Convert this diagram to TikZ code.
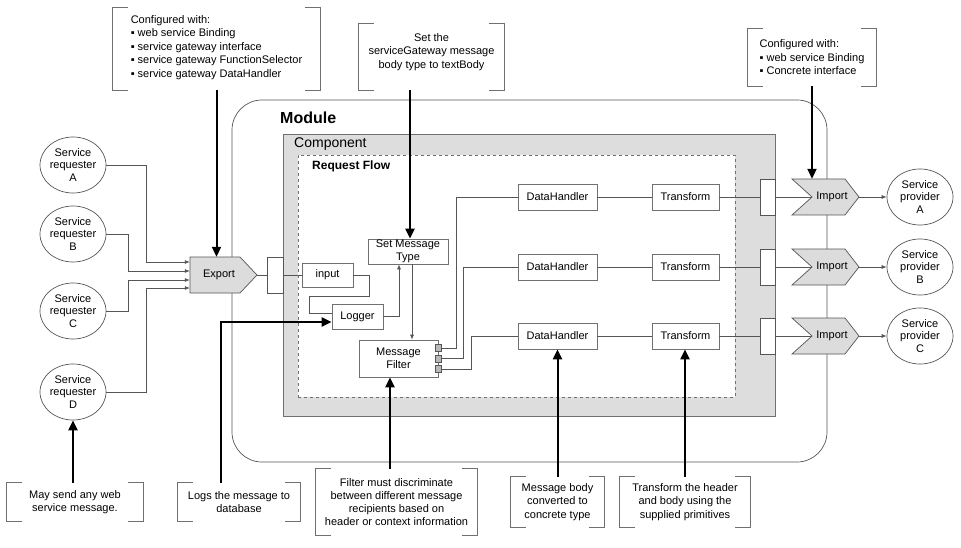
\documentclass[tikz,border=0pt]{standalone}
\usepackage{fontspec}
\setmainfont{Liberation Sans}
\usetikzlibrary{arrows.meta,shapes.geometric}
\definecolor{linegray}{HTML}{555555}
\definecolor{boxgray}{HTML}{707070}
\definecolor{compfill}{HTML}{DDDDDD}
\definecolor{shapefill}{HTML}{DCDCDC}
\newcommand\bracketsof[1]{%
  \draw[bracketline] ([xshift=15pt]#1.north west) -- (#1.north west) -- (#1.south west) -- ([xshift=15pt]#1.south west);
  \draw[bracketline] ([xshift=-15pt]#1.north east) -- (#1.north east) -- (#1.south east) -- ([xshift=-15pt]#1.south east);}
\begin{document}
\begin{tikzpicture}[x=1pt,y=-1pt,
  every node/.style={font=\fontsize{11}{12.5}\selectfont, inner sep=0pt},
  compbox/.style={draw=boxgray, fill=white, line width=0.7pt, align=center, minimum height=26pt},
  reqell/.style={ellipse, draw=linegray, fill=white, line width=0.7pt, minimum width=66pt, minimum height=56pt, align=center},
  wire/.style={draw=linegray, line width=0.7pt},
  tinyarrow/.style={-{Latex[length=5pt,width=4pt]}},
  notearrow/.style={draw=black, line width=2pt, -{Triangle[length=10pt,width=9pt]}},
  notebox/.style={align=center, font=\fontsize{11}{13.5}\selectfont},
  bracketline/.style={draw=boxgray, line width=0.7pt},
  portbox/.style={draw=linegray, fill=white, line width=0.7pt, minimum width=16pt, minimum height=36pt},
  fport/.style={draw=linegray, fill=gray!55, line width=0.5pt, minimum width=6pt, minimum height=7pt},
  shapeline/.style={draw=linegray, fill=shapefill, line width=0.7pt}
]
\useasboundingbox (0,0) rectangle (961,548);

% containers
\node[draw=linegray, line width=0.7pt, rounded corners=30pt, minimum width=595pt, minimum height=362pt] (module) at (529.5,281) {};
\node[draw=boxgray, fill=compfill, line width=0.7pt, minimum width=492pt, minimum height=282pt] (component) at (529,275) {};
\node[draw=boxgray, fill=white, dashed, line width=0.7pt, minimum width=437pt, minimum height=242pt] (flow) at (516.5,276) {};
\node[font=\bfseries\fontsize{16}{18}\selectfont, anchor=west] (modtitle) at (280,118) {Module};
\node[font=\fontsize{14}{16}\selectfont, anchor=west] (comptitle) at (294,144) {Component};
\node[font=\bfseries\fontsize{12}{14}\selectfont, anchor=west] (flowtitle) at (312,166) {Request Flow};

% export shape
\draw[shapeline] (190,257) -- (240,257) -- (257,275) -- (240,293) -- (190,293) -- cycle;
\node[minimum width=58pt, minimum height=36pt] (exp) at (219,275) {Export};
\coordinate (exptip) at (257,275);

% requesters
\node[reqell] (reqA) at (73,165) {Service\\requester\\A};
\node[reqell] (reqB) at (73,234) {Service\\requester\\B};
\node[reqell] (reqC) at (73,311) {Service\\requester\\C};
\node[reqell] (reqD) at (73,392) {Service\\requester\\D};

% inner components
\node[compbox, minimum width=51pt, minimum height=24pt] (input) at (327.5,275) {input};
\node[compbox, minimum width=51pt, minimum height=25pt] (logger) at (357.5,316.5) {Logger};
\node[compbox, minimum width=80pt, minimum height=25pt] (setmsg) at (408,251.5) {Set Message\\Type};
\node[compbox, minimum width=79pt, minimum height=37pt] (filter) at (398.5,358.5) {Message\\Filter};
\node[fport] (fp1) at (438,348) {};
\node[fport] (fp2) at (438,358.5) {};
\node[fport] (fp3) at (438,369) {};

\foreach \r/\y in {A/197,B/267,C/336}{
  \node[compbox, minimum width=79pt] (dh\r) at (557.5,\y) {DataHandler};
  \node[compbox, minimum width=67pt] (tr\r) at (685.5,\y) {Transform};
  \draw[shapeline] (792,\y-18) -- (845,\y-18) -- (859,\y) -- (845,\y+18) -- (792,\y+18) -- (812,\y) -- cycle;
  \node[minimum width=40pt, minimum height=36pt] (imp\r) at (832,\y) {Import};
  \coordinate (impin\r) at (812,\y);
  \coordinate (imptip\r) at (859,\y);
  \node[reqell] (prov\r) at (920,\y) {Service\\provider\\\r};
}

% wires: requesters to export
\draw[wire, tinyarrow] (reqA.east) -- ++(40,0) |- ([yshift=13pt]exp.west);
\draw[wire, tinyarrow] (reqB.east) -- ++(22,0) |- ([yshift=4pt]exp.west);
\draw[wire, tinyarrow] (reqC.east) -- ++(22,0) |- ([yshift=-5pt]exp.west);
\draw[wire, tinyarrow] (reqD.east) -- ++(40,0) |- ([yshift=-13pt]exp.west);

% export to input
\draw[wire] (exptip) -- (input.west);
\draw[wire] (input.east) -- ++(16,0) |- (309,296) |- ([yshift=3.5pt]logger.west);
\draw[wire, tinyarrow] (logger.east) -| ([xshift=-9pt]setmsg.south);
\draw[wire, tinyarrow] ([xshift=4pt]setmsg.south) -- ([xshift=4pt]setmsg.south |- filter.north);
\draw[wire] (fp1.east) -- ++(15,0) |- (dhA.west);
\draw[wire] (fp2.east) -- ++(22,0) |- (dhB.west);
\draw[wire] (fp3.east) -- ++(30,0) |- (dhC.west);
\foreach \r in {A,B,C}{
  \draw[wire] (dh\r) -- (tr\r);
  \draw[wire] (tr\r.east) -- (impin\r);
  \draw[wire, tinyarrow] (imptip\r) -- (prov\r.west);
}

% ports on the component edge
\node[portbox] (portin) at (275,275) {};
\node[portbox, minimum width=15pt] (portA) at (767.5,197) {};
\node[portbox, minimum width=15pt] (portB) at (767.5,267) {};
\node[portbox, minimum width=15pt] (portC) at (767.5,336) {};

% annotation notes
\node[notebox, align=left, minimum width=207pt, minimum height=82pt, text depth=5pt] (n1) at (216.5,49) {Configured with:\\▪ web service Binding\\▪ service gateway interface\\▪ service gateway FunctionSelector\\▪ service gateway DataHandler};
\node[notebox, minimum width=145pt, minimum height=66pt, text depth=12pt] (n2) at (431.5,57) {Set the\\serviceGateway message\\body type to textBody};
\node[notebox, align=left, minimum width=128pt, minimum height=57pt] (n3) at (812,57.5) {Configured with:\\▪ web service Binding\\▪ Concrete interface};
\node[notebox, minimum width=136pt, minimum height=38pt] (n4) at (75,502) {May send any web\\service message.};
\node[notebox, minimum width=122pt, minimum height=38pt] (n5) at (239,502) {Logs the message to\\database};
\node[notebox, font=\fontsize{11}{13}\selectfont, minimum width=161pt, minimum height=66pt] (n6) at (396.5,502) {Filter must discriminate\\between different message\\recipients based on\\header or context information};
\node[notebox, minimum width=93pt, minimum height=50pt] (n7) at (557.5,502) {Message body\\converted to\\concrete type};
\node[notebox, minimum width=130pt, minimum height=50pt] (n8) at (685,502) {Transform the header\\and body using the\\supplied primitives};
\bracketsof{n1}\bracketsof{n2}\bracketsof{n3}\bracketsof{n4}
\bracketsof{n5}\bracketsof{n6}\bracketsof{n7}\bracketsof{n8}

% annotation arrows
\draw[notearrow] (n1.south) -- (n1.south |- exp.north);
\draw[notearrow] ([xshift=2pt]setmsg.north |- n2.south) -- ([xshift=2pt]setmsg.north);
\draw[notearrow] (n3.south) -- (n3.south |- impA.north);
\draw[notearrow] (n4.north -| reqD.south) -- (reqD.south);
\draw[notearrow] ([xshift=-18pt]n5.north) |- ([yshift=-5.5pt]logger.west);
\draw[notearrow] ([xshift=-8.5pt]filter.south |- n6.north) -- ([xshift=-8.5pt]filter.south);
\draw[notearrow] (n7.north) -- (n7.north |- dhC.south);
\draw[notearrow] (n8.north) -- (n8.north |- trC.south);
\end{tikzpicture}
\end{document}
